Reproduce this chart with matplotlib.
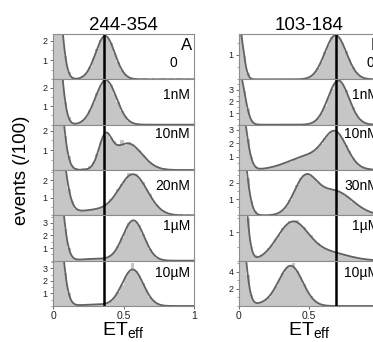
import numpy as np
import matplotlib
matplotlib.use("Agg")
import matplotlib.pyplot as plt
from matplotlib.ticker import FixedLocator, MultipleLocator

plt.rcParams['font.family'] = ['Liberation Sans', 'DejaVu Sans']
plt.rcParams['mathtext.fontset'] = 'custom'
plt.rcParams['mathtext.rm'] = 'Liberation Sans'

# ET_eff histogram bins (width 0.025 from 0 to 1)
bin_edges = np.linspace(0.0, 1.0, 41)

constructs = ["244-354", "103-184"]
panel_tags = ["A", "B"]
conc_a = ["0", "1nM", "10nM", "20nM", "1µM", "10µM"]
conc_b = ["0", "1nM", "10nM", "30nM", "1µM", "10µM"]
ref_line = [0.365, 0.69]

# events (/100) per bin, panel A (244-354)
hist_a = [
    [7.7, 5.6, 3.1, 1.2, 0.4, 0.1, 0.06, 0.08, 0.15, 0.35, 0.62, 1.1, 1.55, 2.05, 2.2, 2.15, 1.9, 1.35, 0.9, 0.48,
     0.26, 0.12, 0.06, 0.05, 0.04, 0.05, 0.05, 0.04, 0.05, 0.04, 0.05, 0.05, 0.04, 0.05, 0.04, 0.05, 0.05, 0.04, 0.05, 0.04],
    [7.7, 5.7, 3.0, 1.25, 0.4, 0.1, 0.07, 0.12, 0.25, 0.42, 0.8, 1.18, 1.72, 2.1, 2.4, 2.3, 2.15, 1.65, 1.25, 0.75,
     0.46, 0.22, 0.1, 0.06, 0.05, 0.04, 0.05, 0.04, 0.05, 0.05, 0.04, 0.05, 0.04, 0.05, 0.05, 0.04, 0.05, 0.04, 0.05, 0.05],
    [7.8, 6.0, 3.6, 1.7, 0.7, 0.22, 0.1, 0.07, 0.08, 0.1, 0.18, 0.4, 0.82, 1.4, 1.75, 1.95, 1.6, 1.45, 1.3, 1.5,
     1.25, 1.4, 1.3, 1.1, 1.0, 0.75, 0.55, 0.42, 0.25, 0.18, 0.12, 0.08, 0.06, 0.05, 0.05, 0.04, 0.05, 0.04, 0.05, 0.05],
    [7.9, 6.6, 4.7, 2.9, 1.5, 0.8, 0.38, 0.3, 0.26, 0.28, 0.3, 0.32, 0.4, 0.42, 0.56, 0.65, 0.92, 1.1, 1.5, 1.8,
     2.0, 2.4, 2.3, 2.35, 2.1, 1.9, 1.5, 1.2, 0.8, 0.6, 0.35, 0.24, 0.12, 0.08, 0.05, 0.04, 0.05, 0.04, 0.05, 0.04],
    [11.6, 9.0, 5.6, 2.5, 1.0, 0.3, 0.1, 0.08, 0.12, 0.1, 0.15, 0.12, 0.16, 0.14, 0.2, 0.25, 0.45, 0.7, 1.2, 1.8,
     2.35, 3.0, 3.15, 3.1, 2.8, 2.1, 1.55, 0.9, 0.55, 0.25, 0.12, 0.06, 0.04, 0.03, 0.04, 0.03, 0.04, 0.03, 0.04, 0.03],
    [11.6, 9.1, 5.5, 2.6, 1.0, 0.3, 0.1, 0.07, 0.1, 0.08, 0.12, 0.1, 0.13, 0.11, 0.18, 0.25, 0.42, 0.75, 1.15, 1.7,
     2.3, 2.7, 3.4, 2.8, 2.4, 1.8, 1.3, 0.75, 0.45, 0.22, 0.1, 0.05, 0.04, 0.03, 0.04, 0.03, 0.04, 0.03, 0.04, 0.03],
]

# events (/100) per bin, panel B (103-184)
hist_b = [
    [1.95, 0.95, 0.25, 0.04, 0.02, 0.02, 0.03, 0.02, 0.02, 0.03, 0.02, 0.02, 0.03, 0.02, 0.02, 0.03, 0.02, 0.03, 0.04, 0.06,
     0.13, 0.25, 0.46, 0.72, 1.1, 1.4, 1.72, 1.78, 1.7, 1.5, 1.15, 0.82, 0.5, 0.3, 0.15, 0.07, 0.04, 0.03, 0.02, 0.02],
    [4.3, 2.9, 1.35, 0.4, 0.1, 0.04, 0.04, 0.03, 0.04, 0.03, 0.04, 0.03, 0.04, 0.03, 0.04, 0.04, 0.03, 0.04, 0.04, 0.06,
     0.12, 0.28, 0.55, 1.0, 1.6, 2.4, 3.1, 3.7, 3.8, 3.5, 3.0, 2.2, 1.5, 0.9, 0.5, 0.22, 0.1, 0.05, 0.04, 0.03],
    [5.8, 4.2, 2.3, 0.95, 0.3, 0.14, 0.1, 0.12, 0.2, 0.22, 0.32, 0.36, 0.5, 0.55, 0.62, 0.8, 0.85, 0.95, 1.1, 1.15,
     1.35, 1.45, 1.75, 1.95, 2.4, 2.65, 2.95, 3.0, 2.7, 2.4, 1.85, 1.4, 0.9, 0.6, 0.32, 0.2, 0.12, 0.06, 0.03, 0.02],
    [5.8, 4.2, 2.3, 0.9, 0.28, 0.08, 0.03, 0.02, 0.03, 0.04, 0.08, 0.18, 0.35, 0.6, 0.95, 1.4, 1.85, 2.3, 2.5, 2.6,
     2.45, 2.3, 2.05, 1.85, 1.75, 1.6, 1.65, 1.5, 1.45, 1.35, 1.2, 1.05, 0.85, 0.7, 0.55, 0.42, 0.3, 0.22, 0.14, 0.09],
    [4.8, 3.2, 1.5, 0.5, 0.2, 0.12, 0.2, 0.26, 0.45, 0.55, 0.78, 0.92, 1.15, 1.25, 1.4, 1.38, 1.42, 1.25, 1.2, 1.0,
     0.9, 0.7, 0.62, 0.5, 0.45, 0.36, 0.35, 0.28, 0.26, 0.2, 0.2, 0.15, 0.14, 0.1, 0.08, 0.06, 0.05, 0.03, 0.02, 0.02],
    [11.4, 7.7, 3.6, 1.25, 0.45, 0.35, 0.45, 0.7, 1.1, 1.6, 2.3, 3.1, 3.8, 4.4, 4.7, 5.0, 4.1, 3.4, 2.6, 1.8,
     1.15, 0.7, 0.38, 0.2, 0.1, 0.05, 0.03, 0.02, 0.02, 0.02, 0.02, 0.02, 0.02, 0.02, 0.02, 0.02, 0.02, 0.02, 0.02, 0.02],
]

# fitted Gaussian components (amplitude, centre, width) for each histogram
fit_a = [
    [(8.0, 0.0, 0.045), (2.25, 0.37, 0.068)],
    [(8.0, 0.0, 0.045), (2.4, 0.375, 0.075)],
    [(8.0, 0.0, 0.05), (1.5, 0.37, 0.045), (1.35, 0.53, 0.10)],
    [(8.0, 0.0, 0.06), (0.3, 0.30, 0.15), (2.3, 0.57, 0.10)],
    [(12.0, 0.0, 0.05), (0.15, 0.30, 0.10), (3.2, 0.57, 0.075)],
    [(12.0, 0.0, 0.05), (0.12, 0.30, 0.10), (2.9, 0.565, 0.075)],
]
fit_b = [
    [(2.1, 0.0, 0.03), (1.8, 0.69, 0.077)],
    [(4.5, 0.0, 0.04), (3.8, 0.71, 0.075)],
    [(6.0, 0.0, 0.045), (1.1, 0.52, 0.16), (2.3, 0.69, 0.08)],
    [(6.0, 0.0, 0.045), (2.1, 0.47, 0.08), (1.5, 0.68, 0.13)],
    [(5.0, 0.0, 0.04), (1.3, 0.38, 0.11), (0.3, 0.62, 0.15)],
    [(12.0, 0.0, 0.04), (0.25, 0.20, 0.10), (4.65, 0.37, 0.085)],
]

ytop_a = [2.35, 2.45, 2.3, 2.6, 3.6, 3.6]
ytop_b = [1.85, 3.9, 3.4, 2.8, 1.6, 5.3]
yticks_a = [[1, 2], [1, 2], [1, 2], [1, 2], [1, 2, 3], [1, 2, 3]]
yticks_b = [[1], [1, 2, 3], [1, 2, 3], [1, 2], [1], [2, 4]]
xtick_vals = [0, 0.5, 1]
xtick_text = ["0", "0.5", "1"]

# vertical position (axes fraction) of the concentration label baselines
label_y = [0.28, 0.57, 0.70, 0.56, 0.67, 0.64]

W, H = 373, 342
fig = plt.figure(figsize=(W / 100, H / 100), dpi=100)

top_px, bot_px = 34, 306
row_h = (bot_px - top_px) / 6
panels = [
    dict(x0=53, w=141, hist=hist_a, fit=fit_a, ytop=ytop_a, yt=yticks_a, conc=conc_a, lab_x=0.97, zero_x=0.88),
    dict(x0=239, w=140, hist=hist_b, fit=fit_b, ytop=ytop_b, yt=yticks_b, conc=conc_b, lab_x=1.0, zero_x=0.965),
]

xs = np.linspace(0, 1, 500)
bar_col = "#c6c6c6"
fit_col = "#626262"
frame_col = "#8c8c8c"

for p, pan in enumerate(panels):
    for r in range(6):
        y_top = top_px + r * row_h
        ax = fig.add_axes([pan["x0"] / W, 1 - (y_top + row_h) / H, pan["w"] / W, row_h / H])
        ax.stairs(pan["hist"][r], bin_edges, fill=True, color=bar_col, linewidth=0)
        curve = np.zeros_like(xs)
        for amp, mu, sd in pan["fit"][r]:
            curve += amp * np.exp(-0.5 * ((xs - mu) / sd) ** 2)
        ax.plot(xs, curve, color=fit_col, lw=1.3)
        ax.axvline(ref_line[p], color="black", lw=1.8)
        ax.set_xlim(0, 1)
        ax.set_ylim(0, pan["ytop"][r])
        ax.yaxis.set_major_locator(FixedLocator(pan["yt"][r]))
        step = pan["yt"][r][1] - pan["yt"][r][0] if len(pan["yt"][r]) > 1 else 1
        ax.yaxis.set_minor_locator(MultipleLocator(step / 2))
        ax.tick_params(axis="y", which="major", direction="out", length=2.5, width=0.6,
                       color="#555555", labelsize=6.5, pad=1.5, labelcolor="#222222")
        ax.tick_params(axis="y", which="minor", direction="out", length=1.5, width=0.5, color="#777777")
        for s in ax.spines.values():
            s.set_color(frame_col)
            s.set_linewidth(0.8)
        if r == 5:
            ax.set_xticks(xtick_vals)
            ax.set_xticklabels(xtick_text)
            ax.tick_params(axis="x", direction="out", length=2, width=0.6, color="#555555",
                           labelsize=7.5, pad=1.5, labelcolor="#222222")
            ax.set_xlabel(r"ET$_\mathregular{eff}$", fontsize=14, labelpad=0)
        else:
            ax.set_xticks([])
        conc = pan["conc"][r]
        if r == 0:
            ax.text(pan["lab_x"] + 0.02, 0.65, panel_tags[p], transform=ax.transAxes,
                    ha="right", va="baseline", fontsize=12)
            ax.text(pan["zero_x"], label_y[r], conc, transform=ax.transAxes,
                    ha="right", va="baseline", fontsize=10)
            ax.set_title(constructs[p], fontsize=13.5, pad=3)
        else:
            ax.text(pan["lab_x"], label_y[r], conc, transform=ax.transAxes,
                    ha="right", va="baseline", fontsize=10)

fig.text(22 / W, 1 - 170 / H, "events (/100)", rotation=90, ha="center", va="center", fontsize=13.5)

fig.savefig("out.png", dpi=100)
